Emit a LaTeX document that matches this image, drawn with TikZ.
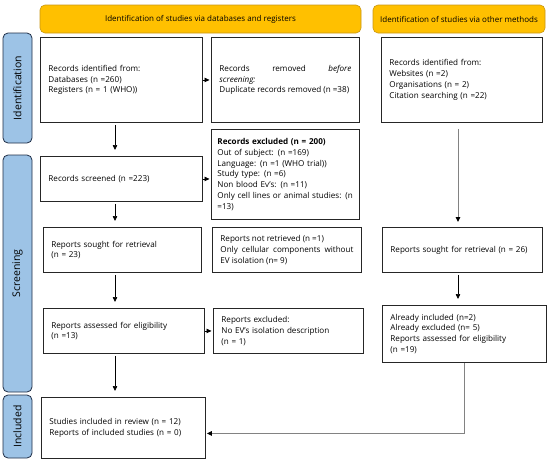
\documentclass[tikz,border=0pt]{standalone}
\usepackage{fontspec}
\setmainfont{Open Sans}
\usepackage{xcolor}
\usepackage{tikz}
\usetikzlibrary{
    positioning,
    arrows.meta,
    calc
}
\definecolor{printGold}{RGB}{255, 192, 0}
\definecolor{printGoldLine}{RGB}{200, 150, 20}
\definecolor{printSky}{RGB}{157, 195, 230}
\definecolor{printNavy}{RGB}{30, 45, 70}
\definecolor{printGray}{RGB}{130, 130, 130}

\begin{document}
\begin{tikzpicture}[x=1pt, y=-1pt, >={Triangle[length=5pt, width=4.5pt]},
    box/.style={draw=black!85, line width=0.9pt, anchor=north west, inner xsep=8pt,
        inner ysep=2pt, align=left, font=\fontsize{8.1}{10.8}\selectfont},
    header/.style={draw=printGoldLine, fill=printGold, line width=0.6pt, rounded corners=5pt},
    phase/.style={draw=printNavy, fill=printSky, line width=0.8pt, rounded corners=5pt},
    arr/.style={->, line width=0.7pt, shorten <=2pt, shorten >=6pt},
    side/.style={->, line width=0.7pt, shorten >=1.5pt},
    grayArr/.style={-{Triangle[length=5pt, width=4.5pt, color=black]}, line width=1pt, printGray}]
            \useasboundingbox (0,0) rectangle (550,464);

            % header bars
            \draw[header] (40,5) rectangle (361,33);
            \node[font=\fontsize{8}{9}\selectfont] (hdDb) at (200.5,19) {Identification of studies via databases and registers};
            \draw[header] (373,5) rectangle (545,33);
            \node[font=\fontsize{8}{9}\selectfont] (hdOther) at (459,19) {Identification of studies via other methods};

            % phase bars on the left
            \draw[phase] (3,33) rectangle (32,143);
            \node[rotate=90, font=\fontsize{10.5}{12}\selectfont] (phId) at (17.5,88) {Identification};
            \draw[phase] (3,155) rectangle (32,392);
            \node[rotate=90, font=\fontsize{10.5}{12}\selectfont] (phScr) at (17.5,273.5) {Screening};
            \draw[phase] (3,395) rectangle (32,458);
            \node[rotate=90, font=\fontsize{10.5}{12}\selectfont] (phInc) at (17.5,426.5) {Included};

            % databases and registers
            \node[box, text width=146pt, minimum height=85pt] (recDb) at (40,37)
                {Records identified from:\\ Databases (n =260)\\ Registers (n = 1 (WHO))};
            \node[box, text width=132pt, minimum height=85pt, align=justify] (recRemoved) at (211,37)
                {Records removed \textit{before}\linebreak \textit{screening:}\\ Duplicate records removed (n =38)};
            \node[box, text width=146pt, minimum height=45pt] (recScreened) at (40,156)
                {Records screened (n =223)};
            \node[box, inner xsep=6pt, text width=136pt, minimum height=90pt] (recExcluded) at (211,129)
                {\textbf{Records excluded (n = 200)}\\ Out of subject: (n =169)\\ Language: (n =1 (WHO trial))\\
                 Study type: (n =6)\\ Non blood Ev’s: (n =11)\\ \mbox{Only cell lines or animal studies: (n}\\ =13)};
            \node[box, text width=142pt, minimum height=45pt] (repSought) at (43,227)
                {Reports sought for retrieval\\ (n = 23)};
            \node[box, text width=133pt, minimum height=45pt, align=justify] (repNotRetr) at (212,227)
                {Reports not retrieved (n =1)\\ Only cellular components without\linebreak EV isolation (n= 9)};
            \node[box, text width=145pt, minimum height=45pt] (repAssessed) at (43,308)
                {Reports assessed for eligibility\\ (n =13)};
            \node[box, text width=134pt, minimum height=45pt] (repExcluded) at (213,308)
                {Reports excluded:\\ No EV’s isolation description\\ (n = 1)};
            \node[box, text width=148pt, minimum height=61pt] (studIncluded) at (41,397)
                {Studies included in review (n = 12)\\ Reports of included studies (n = 0)};

            % other methods
            \node[box, text width=145pt, minimum height=85pt] (recOther) at (381,37)
                {Records identified from:\\ Websites (n =2)\\ Organisations (n = 2)\\ Citation searching (n =22)};
            \node[box, text width=144pt, minimum height=45pt] (repSoughtOther) at (382,227)
                {Reports sought for retrieval (n = 26)};
            \node[box, text width=148pt, minimum height=57pt] (repOther) at (382,305)
                {Already included (n=2)\\ Already excluded (n= 5)\\ Reports assessed for eligibility\\ (n =19)};

            \coordinate (colL) at (115,0);
            \coordinate (colR) at (458,0);
            \coordinate (colK) at (464,0);

            % arrows down the left column
            \draw[arr] (recDb.south -| colL) -- (recScreened.north -| colL);
            \draw[arr] (recScreened.south -| colL) -- (repSought.north -| colL);
            \draw[arr] (repSought.south -| colL) -- (repAssessed.north -| colL);
            \draw[arr] (repAssessed.south -| colL) -- (studIncluded.north -| colL);

            % arrows to the exclusion boxes
            \draw[side] (recDb.east) -- (recRemoved.west);
            \draw[side] (recScreened.east) -- (recExcluded.west |- recScreened.east);
            \draw[side] (repAssessed.east) -- (repExcluded.west);

            % right column
            \draw[grayArr, shorten <=6pt, shorten >=5pt] (recOther.south -| colR) -- (repSoughtOther.north -| colR);
            \draw[arr] (repSoughtOther.south -| colR) -- (repOther.north -| colR);
            \draw[grayArr, shorten >=1pt] (repOther.south -| colK) |- ([yshift=-5.5pt]studIncluded.east);
        \end{tikzpicture}
\end{document}
